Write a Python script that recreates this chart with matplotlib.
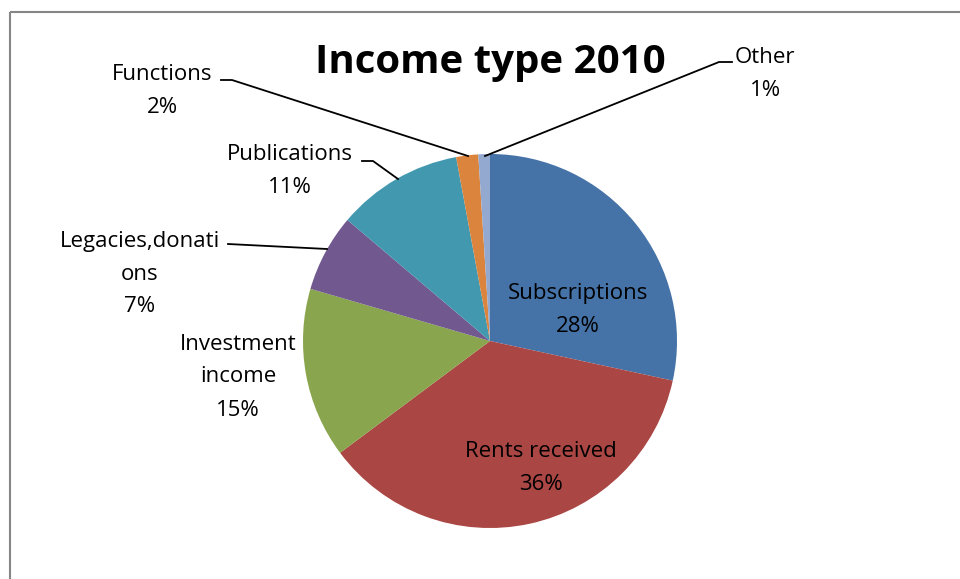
import matplotlib.pyplot as plt
from matplotlib.patches import Rectangle

# income shares, 2010 (percent)
categories = ["Subscriptions", "Rents received", "Investment income",
              "Legacies,donations", "Publications", "Functions", "Other"]
label_text = ["Subscriptions", "Rents received", "Investment\nincome",
              "Legacies,donati\nons", "Publications", "Functions", "Other"]
shares = [28.4, 36.4, 14.7, 6.7, 10.9, 1.9, 1.0]
colors = ["#4572A7", "#AA4643", "#89A54E", "#71588F", "#4198AF", "#DB843D", "#93A9CF"]

plt.rcParams['font.family'] = ['Open Sans', 'DejaVu Sans']

fig = plt.figure(figsize=(9.6, 5.79), dpi=100)
ax = fig.add_axes([0, 0, 1, 1])

# chart border
ax.add_patch(Rectangle((10, 12), 960, 600, fill=False, edgecolor="#868686", linewidth=1.5))

cx, cy, r = 490, 341, 187
# y axis is inverted below, so counterclock=True draws clockwise on screen
wedges, _ = ax.pie(shares, colors=colors, startangle=-90, counterclock=True,
                   center=(cx, cy), radius=r, frame=True,
                   wedgeprops=dict(linewidth=0))
ax.set_xlim(0, 960)
ax.set_ylim(579, 0)
ax.set_aspect('equal')
ax.axis('off')

ax.text(490, 63, "Income type 2010", ha='center', va='center',
        fontsize=29, fontweight='bold')

# label positions (text centre) and leader lines
label_pos = [(578, 310), (541, 468), (238, 377), (140, 274), (290, 171), (162, 91), (765, 74)]
leaders = {
    3: [(228, 244), (327, 249)],
    4: [(362, 161), (373, 161), (398, 179)],
    5: [(221, 80), (232, 80), (468, 156)],
    6: [(732, 62), (719, 62), (485, 156)],
}

for i, (x, y) in enumerate(label_pos):
    ax.text(x, y, f"{label_text[i]}\n{round(shares[i])}%", ha='center', va='center',
            fontsize=16, linespacing=1.75)
for i, pts in leaders.items():
    xs = [p[0] for p in pts]
    ys = [p[1] for p in pts]
    ax.plot(xs, ys, color='black', linewidth=1.3)

fig.savefig("out.png", dpi=100)
